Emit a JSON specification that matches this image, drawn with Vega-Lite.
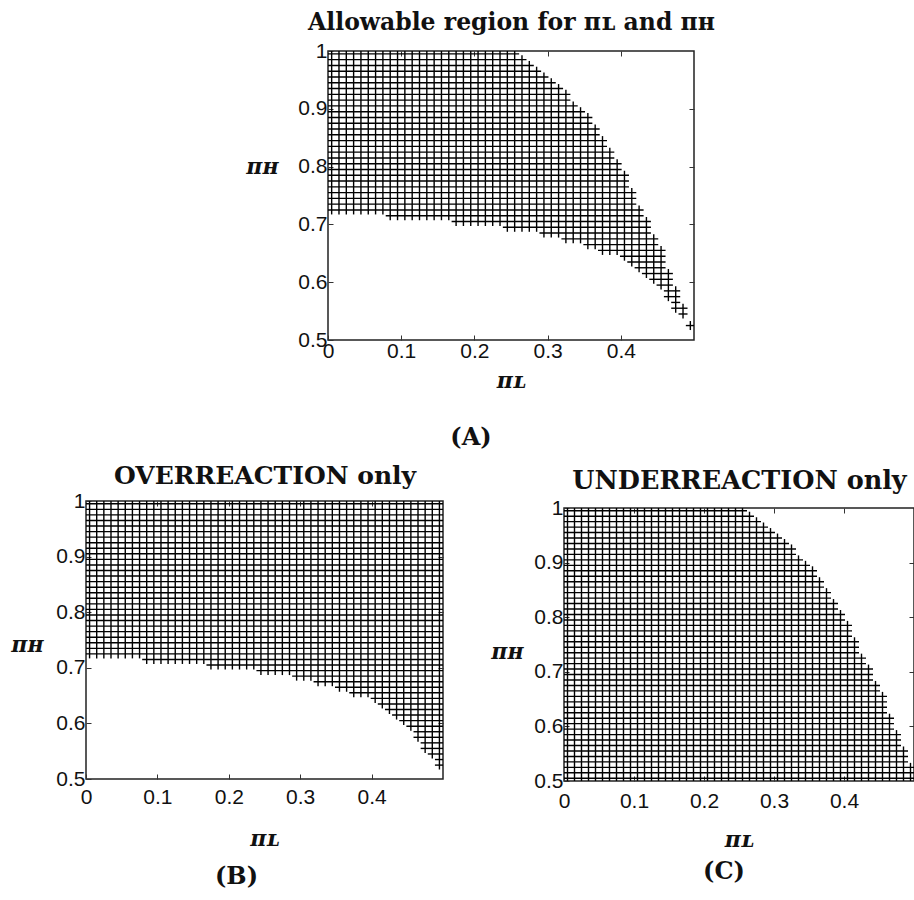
{
  "$schema": "https://vega.github.io/schema/vega-lite/v6.json",
  "background": "white",
  "padding": {"left": 10, "top": 9, "right": 0, "bottom": 0},
  "config": {
    "view": {"stroke": "#222", "strokeWidth": 1.5},
    "axis": {
      "grid": false, "domain": false, "labelFlush": false, "labelOverlap": false,
      "labelFont": "Liberation Sans", "labelFontSize": 21, "labelColor": "#111",
      "tickColor": "#333", "tickSize": -5, "tickWidth": 1,
      "titleFont": "DejaVu Serif", "titleFontWeight": "bold", "titleFontSize": 22, "titleColor": "#111"
    },
    "title": {"font": "DejaVu Serif", "fontWeight": "bold", "fontSize": 24, "color": "#111"}
  },
  "datasets": {
    "columns": [
      {"x": 0.005, "oLo": 0.725, "oHi": 0.995, "uLo": 0.505, "uHi": 0.995},
      {"x": 0.015, "oLo": 0.725, "oHi": 0.995, "uLo": 0.505, "uHi": 0.995},
      {"x": 0.025, "oLo": 0.725, "oHi": 0.995, "uLo": 0.505, "uHi": 0.995},
      {"x": 0.035, "oLo": 0.725, "oHi": 0.995, "uLo": 0.505, "uHi": 0.995},
      {"x": 0.045, "oLo": 0.725, "oHi": 0.995, "uLo": 0.505, "uHi": 0.995},
      {"x": 0.055, "oLo": 0.725, "oHi": 0.995, "uLo": 0.505, "uHi": 0.995},
      {"x": 0.065, "oLo": 0.725, "oHi": 0.995, "uLo": 0.505, "uHi": 0.995},
      {"x": 0.075, "oLo": 0.725, "oHi": 0.995, "uLo": 0.505, "uHi": 0.995},
      {"x": 0.085, "oLo": 0.715, "oHi": 0.995, "uLo": 0.505, "uHi": 0.995},
      {"x": 0.095, "oLo": 0.715, "oHi": 0.995, "uLo": 0.505, "uHi": 0.995},
      {"x": 0.105, "oLo": 0.715, "oHi": 0.995, "uLo": 0.505, "uHi": 0.995},
      {"x": 0.115, "oLo": 0.715, "oHi": 0.995, "uLo": 0.505, "uHi": 0.995},
      {"x": 0.125, "oLo": 0.715, "oHi": 0.995, "uLo": 0.505, "uHi": 0.995},
      {"x": 0.135, "oLo": 0.715, "oHi": 0.995, "uLo": 0.505, "uHi": 0.995},
      {"x": 0.145, "oLo": 0.715, "oHi": 0.995, "uLo": 0.505, "uHi": 0.995},
      {"x": 0.155, "oLo": 0.715, "oHi": 0.995, "uLo": 0.505, "uHi": 0.995},
      {"x": 0.165, "oLo": 0.715, "oHi": 0.995, "uLo": 0.505, "uHi": 0.995},
      {"x": 0.175, "oLo": 0.705, "oHi": 0.995, "uLo": 0.505, "uHi": 0.995},
      {"x": 0.185, "oLo": 0.705, "oHi": 0.995, "uLo": 0.505, "uHi": 0.995},
      {"x": 0.195, "oLo": 0.705, "oHi": 0.995, "uLo": 0.505, "uHi": 0.995},
      {"x": 0.205, "oLo": 0.705, "oHi": 0.995, "uLo": 0.505, "uHi": 0.995},
      {"x": 0.215, "oLo": 0.705, "oHi": 0.995, "uLo": 0.505, "uHi": 0.995},
      {"x": 0.225, "oLo": 0.705, "oHi": 0.995, "uLo": 0.505, "uHi": 0.995},
      {"x": 0.235, "oLo": 0.705, "oHi": 0.995, "uLo": 0.505, "uHi": 0.995},
      {"x": 0.245, "oLo": 0.695, "oHi": 0.995, "uLo": 0.505, "uHi": 0.995},
      {"x": 0.255, "oLo": 0.695, "oHi": 0.995, "uLo": 0.505, "uHi": 0.995},
      {"x": 0.265, "oLo": 0.695, "oHi": 0.995, "uLo": 0.505, "uHi": 0.985},
      {"x": 0.275, "oLo": 0.695, "oHi": 0.995, "uLo": 0.505, "uHi": 0.975},
      {"x": 0.285, "oLo": 0.695, "oHi": 0.995, "uLo": 0.505, "uHi": 0.965},
      {"x": 0.295, "oLo": 0.685, "oHi": 0.995, "uLo": 0.505, "uHi": 0.955},
      {"x": 0.305, "oLo": 0.685, "oHi": 0.995, "uLo": 0.505, "uHi": 0.945},
      {"x": 0.315, "oLo": 0.685, "oHi": 0.995, "uLo": 0.505, "uHi": 0.935},
      {"x": 0.325, "oLo": 0.675, "oHi": 0.995, "uLo": 0.505, "uHi": 0.925},
      {"x": 0.335, "oLo": 0.675, "oHi": 0.995, "uLo": 0.505, "uHi": 0.905},
      {"x": 0.345, "oLo": 0.675, "oHi": 0.995, "uLo": 0.505, "uHi": 0.895},
      {"x": 0.355, "oLo": 0.665, "oHi": 0.995, "uLo": 0.505, "uHi": 0.885},
      {"x": 0.365, "oLo": 0.665, "oHi": 0.995, "uLo": 0.505, "uHi": 0.865},
      {"x": 0.375, "oLo": 0.655, "oHi": 0.995, "uLo": 0.505, "uHi": 0.845},
      {"x": 0.385, "oLo": 0.655, "oHi": 0.995, "uLo": 0.505, "uHi": 0.825},
      {"x": 0.395, "oLo": 0.655, "oHi": 0.995, "uLo": 0.505, "uHi": 0.805},
      {"x": 0.405, "oLo": 0.645, "oHi": 0.995, "uLo": 0.505, "uHi": 0.785},
      {"x": 0.415, "oLo": 0.635, "oHi": 0.995, "uLo": 0.505, "uHi": 0.755},
      {"x": 0.425, "oLo": 0.625, "oHi": 0.995, "uLo": 0.505, "uHi": 0.725},
      {"x": 0.435, "oLo": 0.615, "oHi": 0.995, "uLo": 0.505, "uHi": 0.705},
      {"x": 0.445, "oLo": 0.605, "oHi": 0.995, "uLo": 0.505, "uHi": 0.675},
      {"x": 0.455, "oLo": 0.595, "oHi": 0.995, "uLo": 0.505, "uHi": 0.655},
      {"x": 0.465, "oLo": 0.575, "oHi": 0.995, "uLo": 0.505, "uHi": 0.615},
      {"x": 0.475, "oLo": 0.555, "oHi": 0.995, "uLo": 0.505, "uHi": 0.585},
      {"x": 0.485, "oLo": 0.545, "oHi": 0.995, "uLo": 0.505, "uHi": 0.555},
      {"x": 0.495, "oLo": 0.525, "oHi": 0.995, "uLo": 0.505, "uHi": 0.525}
    ],
    "rows": [
      {"y": 0.995, "oL": 0.005, "oR": 0.495, "uL": 0.005, "uR": 0.255},
      {"y": 0.985, "oL": 0.005, "oR": 0.495, "uL": 0.005, "uR": 0.265},
      {"y": 0.975, "oL": 0.005, "oR": 0.495, "uL": 0.005, "uR": 0.275},
      {"y": 0.965, "oL": 0.005, "oR": 0.495, "uL": 0.005, "uR": 0.285},
      {"y": 0.955, "oL": 0.005, "oR": 0.495, "uL": 0.005, "uR": 0.295},
      {"y": 0.945, "oL": 0.005, "oR": 0.495, "uL": 0.005, "uR": 0.305},
      {"y": 0.935, "oL": 0.005, "oR": 0.495, "uL": 0.005, "uR": 0.315},
      {"y": 0.925, "oL": 0.005, "oR": 0.495, "uL": 0.005, "uR": 0.325},
      {"y": 0.915, "oL": 0.005, "oR": 0.495, "uL": 0.005, "uR": 0.325},
      {"y": 0.905, "oL": 0.005, "oR": 0.495, "uL": 0.005, "uR": 0.335},
      {"y": 0.895, "oL": 0.005, "oR": 0.495, "uL": 0.005, "uR": 0.345},
      {"y": 0.885, "oL": 0.005, "oR": 0.495, "uL": 0.005, "uR": 0.355},
      {"y": 0.875, "oL": 0.005, "oR": 0.495, "uL": 0.005, "uR": 0.355},
      {"y": 0.865, "oL": 0.005, "oR": 0.495, "uL": 0.005, "uR": 0.365},
      {"y": 0.855, "oL": 0.005, "oR": 0.495, "uL": 0.005, "uR": 0.365},
      {"y": 0.845, "oL": 0.005, "oR": 0.495, "uL": 0.005, "uR": 0.375},
      {"y": 0.835, "oL": 0.005, "oR": 0.495, "uL": 0.005, "uR": 0.375},
      {"y": 0.825, "oL": 0.005, "oR": 0.495, "uL": 0.005, "uR": 0.385},
      {"y": 0.815, "oL": 0.005, "oR": 0.495, "uL": 0.005, "uR": 0.385},
      {"y": 0.805, "oL": 0.005, "oR": 0.495, "uL": 0.005, "uR": 0.395},
      {"y": 0.795, "oL": 0.005, "oR": 0.495, "uL": 0.005, "uR": 0.395},
      {"y": 0.785, "oL": 0.005, "oR": 0.495, "uL": 0.005, "uR": 0.405},
      {"y": 0.775, "oL": 0.005, "oR": 0.495, "uL": 0.005, "uR": 0.405},
      {"y": 0.765, "oL": 0.005, "oR": 0.495, "uL": 0.005, "uR": 0.405},
      {"y": 0.755, "oL": 0.005, "oR": 0.495, "uL": 0.005, "uR": 0.415},
      {"y": 0.745, "oL": 0.005, "oR": 0.495, "uL": 0.005, "uR": 0.415},
      {"y": 0.735, "oL": 0.005, "oR": 0.495, "uL": 0.005, "uR": 0.415},
      {"y": 0.725, "oL": 0.005, "oR": 0.495, "uL": 0.005, "uR": 0.425},
      {"y": 0.715, "oL": 0.085, "oR": 0.495, "uL": 0.005, "uR": 0.425},
      {"y": 0.705, "oL": 0.175, "oR": 0.495, "uL": 0.005, "uR": 0.435},
      {"y": 0.695, "oL": 0.245, "oR": 0.495, "uL": 0.005, "uR": 0.435},
      {"y": 0.685, "oL": 0.295, "oR": 0.495, "uL": 0.005, "uR": 0.435},
      {"y": 0.675, "oL": 0.325, "oR": 0.495, "uL": 0.005, "uR": 0.445},
      {"y": 0.665, "oL": 0.355, "oR": 0.495, "uL": 0.005, "uR": 0.445},
      {"y": 0.655, "oL": 0.375, "oR": 0.495, "uL": 0.005, "uR": 0.455},
      {"y": 0.645, "oL": 0.405, "oR": 0.495, "uL": 0.005, "uR": 0.455},
      {"y": 0.635, "oL": 0.415, "oR": 0.495, "uL": 0.005, "uR": 0.455},
      {"y": 0.625, "oL": 0.425, "oR": 0.495, "uL": 0.005, "uR": 0.455},
      {"y": 0.615, "oL": 0.435, "oR": 0.495, "uL": 0.005, "uR": 0.465},
      {"y": 0.605, "oL": 0.445, "oR": 0.495, "uL": 0.005, "uR": 0.465},
      {"y": 0.595, "oL": 0.455, "oR": 0.495, "uL": 0.005, "uR": 0.465},
      {"y": 0.585, "oL": 0.465, "oR": 0.495, "uL": 0.005, "uR": 0.475},
      {"y": 0.575, "oL": 0.465, "oR": 0.495, "uL": 0.005, "uR": 0.475},
      {"y": 0.565, "oL": 0.475, "oR": 0.495, "uL": 0.005, "uR": 0.475},
      {"y": 0.555, "oL": 0.475, "oR": 0.495, "uL": 0.005, "uR": 0.485},
      {"y": 0.545, "oL": 0.485, "oR": 0.495, "uL": 0.005, "uR": 0.485},
      {"y": 0.535, "oL": 0.495, "oR": 0.495, "uL": 0.005, "uR": 0.485},
      {"y": 0.525, "oL": 0.495, "oR": 0.495, "uL": 0.005, "uR": 0.495},
      {"y": 0.515, "oL": null, "oR": null, "uL": 0.005, "uR": 0.495},
      {"y": 0.505, "oL": null, "oR": null, "uL": 0.005, "uR": 0.495}
    ]
  },
  "spacing": 10,
  "vconcat": [
    {
      "spacing": 0,
      "hconcat": [
        {"width": 159, "height": 1, "view": {"stroke": null}, "data": {"values": [{}]}, "mark": {"type": "point", "opacity": 0}, "encoding": {}},
        {
          "width": 366, "height": 289,
          "title": {"text": "(A)", "orient": "bottom", "offset": 35, "dx": -40},
          "layer": [
            {
              "data": {"name": "columns"},
              "mark": {"type": "rule", "clip": true, "color": "#000", "strokeWidth": 1.4, "yOffset": 4.5, "y2Offset": -4.5},
              "encoding": {
                "x": {"field": "x", "type": "quantitative", "title": "πʟ",
                  "scale": {"domain": [0, 0.5], "nice": false, "zero": false},
                  "axis": {"values": [0, 0.1, 0.2, 0.3, 0.4], "format": "~g", "labelPadding": 5, "titleY": 47, "titleBaseline": "alphabetic", "titleFontStyle": "italic"}},
                "y": {"field": "oLo", "type": "quantitative", "title": "πʜ",
                  "scale": {"domain": [0.5, 1], "nice": false, "zero": false},
                  "axis": {"values": [0.5, 0.6, 0.7, 0.8, 0.9, 1], "format": "~g", "labelPadding": 6, "titleAngle": 0, "titleAlign": "right", "titleBaseline": "middle", "titleX": -50, "titleY": 115, "titleFontStyle": "italic"}},
                "y2": {"field": "uHi"}
              }
            },
            {
              "data": {"name": "rows"},
              "transform": [{"filter": "datum.oL != null && datum.oL <= datum.uR"}],
              "mark": {"type": "rule", "clip": true, "color": "#000", "strokeWidth": 1.4, "xOffset": -4.5, "x2Offset": 4.5},
              "encoding": {
                "x": {"field": "oL", "type": "quantitative", "title": "Allowable region for πʟ and πʜ",
                  "scale": {"domain": [0, 0.5], "nice": false, "zero": false},
                  "axis": {"orient": "top", "labels": false, "values": [0.1, 0.2, 0.3, 0.4], "titleFontSize": 23.5, "titleY": -22, "titleBaseline": "alphabetic"}},
                "x2": {"field": "uR"},
                "y": {"field": "y", "type": "quantitative",
                  "scale": {"domain": [0.5, 1], "nice": false, "zero": false},
                  "axis": {"orient": "right", "labels": false, "title": null, "values": [0.6, 0.7, 0.8, 0.9]}}
              }
            }
          ],
          "resolve": {"axis": {"x": "independent", "y": "independent"}}
        }
      ]
    },
    {
      "spacing": 45,
      "hconcat": [
        {
          "spacing": 0,
          "vconcat": [
            {"width": 1, "height": 1, "view": {"stroke": null}, "data": {"values": [{}]}, "mark": {"type": "point", "opacity": 0, "size": 0, "strokeWidth": 0}, "encoding": {}},
            {
              "width": 357, "height": 278,
              "title": {"text": "(B)", "orient": "bottom", "offset": 16, "dx": -28},
              "layer": [
                {
                  "data": {"name": "columns"},
                  "mark": {"type": "rule", "clip": true, "color": "#000", "strokeWidth": 1.4, "yOffset": 4.5, "y2Offset": -4.5},
                  "encoding": {
                    "x": {"field": "x", "type": "quantitative", "title": "πʟ",
                      "scale": {"domain": [0, 0.5], "nice": false, "zero": false},
                      "axis": {"values": [0, 0.1, 0.2, 0.3, 0.4], "format": "~g", "labelPadding": 12, "titleY": 66, "titleBaseline": "alphabetic", "titleFontStyle": "italic"}},
                    "y": {"field": "oLo", "type": "quantitative", "title": "πʜ",
                      "scale": {"domain": [0.5, 1], "nice": false, "zero": false},
                      "axis": {"values": [0.5, 0.6, 0.7, 0.8, 0.9, 1], "format": "~g", "labelPadding": 6, "titleAngle": 0, "titleAlign": "right", "titleBaseline": "middle", "titleX": -43, "titleY": 143, "titleFontStyle": "italic"}},
                    "y2": {"field": "oHi"}
                  }
                },
                {
                  "data": {"name": "rows"},
                  "transform": [{"filter": "datum.oL != null"}],
                  "mark": {"type": "rule", "clip": true, "color": "#000", "strokeWidth": 1.4, "xOffset": -4.5, "x2Offset": 4.5},
                  "encoding": {
                    "x": {"field": "oL", "type": "quantitative", "title": "OVERREACTION only",
                      "scale": {"domain": [0, 0.5], "nice": false, "zero": false},
                      "axis": {"orient": "top", "labels": false, "values": [0.1, 0.2, 0.3, 0.4], "titleFontSize": 25, "titleY": -18, "titleBaseline": "alphabetic"}},
                    "x2": {"field": "oR"},
                    "y": {"field": "y", "type": "quantitative",
                      "scale": {"domain": [0.5, 1], "nice": false, "zero": false},
                      "axis": {"orient": "right", "labels": false, "title": null, "values": [0.6, 0.7, 0.8, 0.9]}}
                  }
                }
              ],
              "resolve": {"axis": {"x": "independent", "y": "independent"}}
            }
          ]
        },
        {
          "spacing": 0,
          "vconcat": [
            {"width": 1, "height": 6, "view": {"stroke": null}, "data": {"values": [{}]}, "mark": {"type": "point", "opacity": 0, "size": 0, "strokeWidth": 0}, "encoding": {}},
            {
              "width": 350, "height": 273,
              "title": {"text": "(C)", "orient": "bottom", "offset": 10, "dx": -15},
              "layer": [
                {
                  "data": {"name": "columns"},
                  "mark": {"type": "rule", "clip": true, "color": "#000", "strokeWidth": 1.4, "yOffset": 4.5, "y2Offset": -4.5},
                  "encoding": {
                    "x": {"field": "x", "type": "quantitative", "title": "πʟ",
                      "scale": {"domain": [0, 0.5], "nice": false, "zero": false},
                      "axis": {"values": [0, 0.1, 0.2, 0.3, 0.4], "format": "~g", "labelPadding": 14, "titleY": 65, "titleBaseline": "alphabetic", "titleFontStyle": "italic"}},
                    "y": {"field": "uLo", "type": "quantitative", "title": "πʜ",
                      "scale": {"domain": [0.5, 1], "nice": false, "zero": false},
                      "axis": {"values": [0.5, 0.6, 0.7, 0.8, 0.9, 1], "format": "~g", "labelPadding": 6, "titleAngle": 0, "titleAlign": "right", "titleBaseline": "middle", "titleX": -41, "titleY": 143, "titleFontStyle": "italic"}},
                    "y2": {"field": "uHi"}
                  }
                },
                {
                  "data": {"name": "rows"},
                  "mark": {"type": "rule", "clip": true, "color": "#000", "strokeWidth": 1.4, "xOffset": -4.5, "x2Offset": 4.5},
                  "encoding": {
                    "x": {"field": "uL", "type": "quantitative", "title": "UNDERREACTION only",
                      "scale": {"domain": [0, 0.5], "nice": false, "zero": false},
                      "axis": {"orient": "top", "labels": false, "values": [0.1, 0.2, 0.3, 0.4], "titleFontSize": 25.5, "titleY": -20, "titleBaseline": "alphabetic"}},
                    "x2": {"field": "uR"},
                    "y": {"field": "y", "type": "quantitative",
                      "scale": {"domain": [0.5, 1], "nice": false, "zero": false},
                      "axis": {"orient": "right", "labels": false, "title": null, "values": [0.6, 0.7, 0.8, 0.9]}}
                  }
                }
              ],
              "resolve": {"axis": {"x": "independent", "y": "independent"}}
            }
          ]
        }
      ]
    }
  ]
}
